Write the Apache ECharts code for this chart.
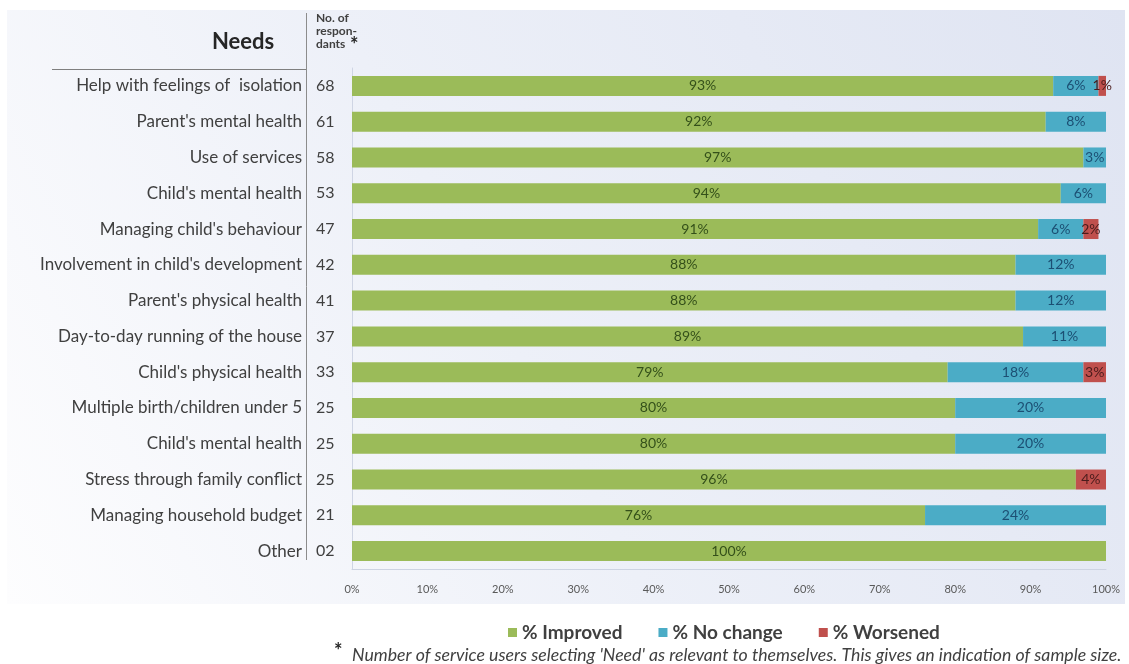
<!DOCTYPE html>
<html>
<head>
<meta charset="utf-8">
<script src="https://cdn.jsdelivr.net/npm/echarts@6/dist/echarts.min.js"></script>
<style>
  html, body { margin: 0; padding: 0; background: #ffffff; }
  #chart { width: 1129px; height: 664px; }
</style>
</head>
<body>
<div id="chart"></div>
<script>
// Needs, in display order (top to bottom)
const needs = [
  "Help with feelings of  isolation",
  "Parent's mental health",
  "Use of services",
  "Child's mental health",
  "Managing child's behaviour",
  "Involvement in child's development",
  "Parent's physical health",
  "Day-to-day running of the house",
  "Child's physical health",
  "Multiple birth/children under 5",
  "Child's mental health",
  "Stress through family conflict",
  "Managing household budget",
  "Other"
];

// Number of respondents selecting each need
const respondents = ["68", "61", "58", "53", "47", "42", "41", "37", "33", "25", "25", "25", "21", "02"];

// Outcome shares (%)
const improved = [93, 92, 97, 94, 91, 88, 88, 89, 79, 80, 80, 96, 76, 100];
const noChange = [6, 8, 3, 6, 6, 12, 12, 11, 18, 20, 20, 0, 24, 0];
const worsened = [1, 0, 0, 0, 2, 0, 0, 0, 3, 0, 0, 4, 0, 0];

const xTicks = [0, 10, 20, 30, 40, 50, 60, 70, 80, 90, 100];

const FONT = 'Lato, "Open Sans", sans-serif';
const chart = echarts.init(document.getElementById('chart'), null, { renderer: 'canvas' });

const pct = p => (p.value ? p.value + '%' : '');

function seriesOf(name, data, color, labelColor) {
  return {
    name: name,
    type: 'bar',
    stack: 'total',
    data: data,
    barWidth: 20,
    itemStyle: { color: color },
    label: {
      show: true,
      position: 'inside',
      formatter: pct,
      color: labelColor,
      fontFamily: FONT,
      fontSize: 14
    },
    labelLayout: { hideOverlap: false },
    emphasis: { disabled: true }
  };
}

chart.setOption({
  animation: false,
  textStyle: { fontFamily: FONT },
  graphic: [
    {
      type: 'rect',
      z: -10,
      silent: true,
      shape: { x: 7, y: 10, width: 1118, height: 594 },
      style: {
        fill: new echarts.graphic.LinearGradient(0, 1, 1, 0, [
          { offset: 0, color: '#fdfdfe' },
          { offset: 0.45, color: '#edf0f8' },
          { offset: 1, color: '#dfe4f2' }
        ])
      }
    },
    {
      type: 'text',
      left: 212, top: 31,
      style: { text: 'Needs', fontFamily: FONT, fontWeight: 'bold', fontSize: 22, fill: '#262626' }
    },
    {
      type: 'text',
      left: 316, top: 12,
      style: {
        text: 'No. of\nrespon-\ndants',
        fontFamily: FONT, fontWeight: 'bold', fontSize: 12, lineHeight: 13, fill: '#404040'
      }
    },
    {
      type: 'text',
      left: 350, top: 36,
      style: { text: '*', fontFamily: FONT, fontWeight: 'bold', fontSize: 20, fill: '#262626' }
    },
    {
      type: 'line',
      shape: { x1: 52, y1: 69.5, x2: 306, y2: 69.5 },
      style: { stroke: '#7f7f7f', lineWidth: 1 }
    },
    {
      type: 'line',
      shape: { x1: 306.5, y1: 13, x2: 306.5, y2: 560 },
      style: { stroke: '#8c8c8c', lineWidth: 1 }
    },
    {
      type: 'text',
      left: 334, top: 642,
      style: { text: '*', fontFamily: FONT, fontWeight: 'bold', fontSize: 20, fill: '#262626' }
    },
    {
      type: 'text',
      left: 352, top: 646,
      style: {
        text: "Number of service users selecting 'Need' as relevant to themselves. This gives an indication of sample size.",
        fontFamily: FONT, fontStyle: 'italic', fontSize: 17.7, fill: '#404040'
      }
    }
  ],
  legend: {
    data: ['% Improved', '% No change', '% Worsened'],
    left: 503,
    top: 618,
    itemWidth: 9,
    itemHeight: 9,
    itemGap: 36,
    icon: 'rect',
    textStyle: { fontFamily: FONT, fontWeight: 'bold', fontSize: 19, color: '#404040' }
  },
  grid: { left: 352, right: 23, top: 68, bottom: 95, containLabel: false },
  xAxis: {
    type: 'value',
    min: 0,
    max: 100,
    interval: 10,
    axisLine: { show: true, lineStyle: { color: '#cdd3e2' } },
    axisTick: { show: false },
    splitLine: { show: false },
    axisLabel: {
      margin: 15,
      fontFamily: FONT,
      fontSize: 11,
      color: '#595959',
      formatter: v => (xTicks.indexOf(v) >= 0 ? v + '%' : '')
    }
  },
  yAxis: [
    {
      type: 'category',
      data: needs,
      inverse: true,
      axisLine: { show: true, lineStyle: { color: '#cfd5e4' } },
      axisTick: { show: false },
      axisLabel: { margin: 50, fontFamily: FONT, fontSize: 17, color: '#404040' }
    },
    {
      type: 'category',
      data: respondents,
      inverse: true,
      position: 'left',
      axisLine: { show: false },
      axisTick: { show: false },
      axisLabel: { margin: 36, align: 'left', fontFamily: FONT, fontSize: 16, color: '#404040' }
    }
  ],
  series: [
    seriesOf('% Improved', improved, '#9bbb59', '#34501a'),
    seriesOf('% No change', noChange, '#4bacc6', '#1c4f73'),
    seriesOf('% Worsened', worsened, '#c0504d', '#4a1c1c')
  ]
});
</script>
</body>
</html>
